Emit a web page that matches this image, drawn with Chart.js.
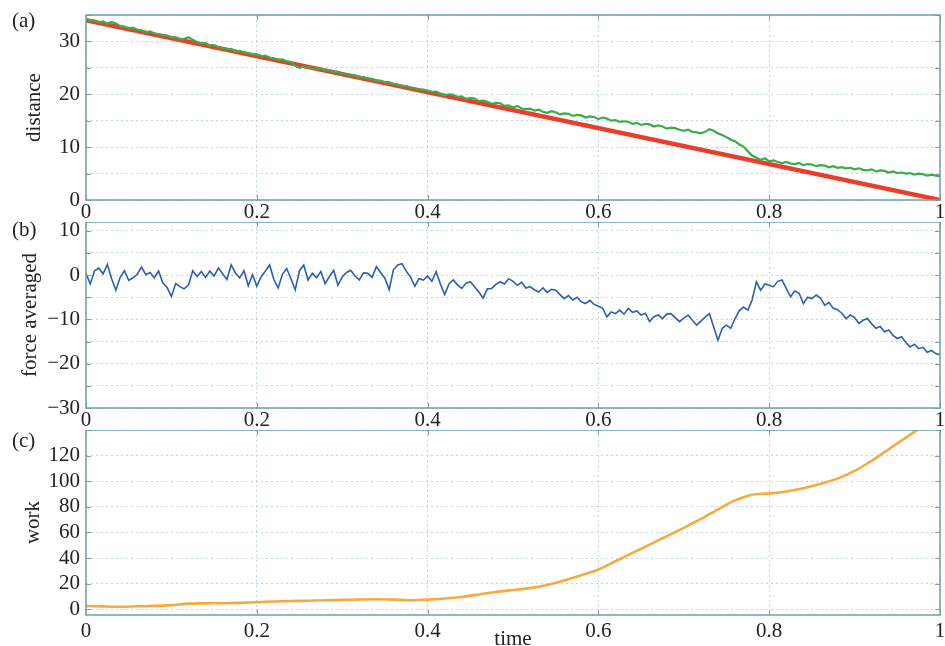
<!DOCTYPE html>
<html>
<head>
<meta charset="utf-8">
<script src="https://cdn.jsdelivr.net/npm/chart.js@4/dist/chart.umd.min.js"></script>
<style>
  html, body { margin: 0; padding: 0; background: #fff; overflow: hidden; }
  #wrap { position: relative; width: 945px; height: 646px; overflow: hidden; }
  canvas { position: absolute; left: 0; }
  .tag { position: absolute; left: 12px; font: 21px 'Liberation Serif', serif; line-height: 21px; color: #222; }
</style>
</head>
<body>
<div id="wrap">
  <canvas id="cDist" width="945" height="222" style="top:0"></canvas>
  <canvas id="cForce" width="945" height="208" style="top:222px"></canvas>
  <canvas id="cWork" width="945" height="230" style="top:430px"></canvas>
  <div class="tag" style="top:10px">(a)</div>
  <div class="tag" style="top:219px">(b)</div>
  <div class="tag" style="top:430px">(c)</div>
</div>
<script>
// ============================================
// distance / force / work vs time — three stacked panels
// ============================================

// x ticks shared by the three panels
const timeTicks = [0, 0.2, 0.4, 0.6, 0.8, 1];

// (a) distance: measured (green, sampled every 0.005) and ideal (red)
const distanceMeasured = [
  34.3, 33.9, 34.0, 33.6, 33.8, 33.3, 33.7, 33.4, 32.9, 32.8, 32.4, 32.6, 32.2, 32.1, 31.7, 31.9, 31.5, 31.4, 31.2, 31.1,
  30.7, 30.8, 30.4, 30.5, 30.8, 30.3, 29.9, 29.6, 29.7, 29.2, 29.3, 28.9, 28.8, 28.5, 28.6, 28.1, 28.2, 27.9, 27.8, 27.5,
  27.6, 27.2, 27.3, 26.9, 26.8, 26.5, 26.6, 26.2, 26.1, 25.4, 25.0, 25.3, 25.1, 24.9, 24.8, 24.9, 24.5, 24.6, 24.2, 24.3,
  23.9, 23.8, 23.5, 23.6, 23.2, 23.3, 22.9, 22.9, 22.5, 22.6, 22.2, 22.3, 21.9, 21.8, 21.5, 21.6, 21.2, 21.1, 20.8, 20.9,
  20.7, 20.4, 20.5, 20.1, 19.8, 20.0, 19.9, 19.5, 19.6, 19.1, 19.3, 19.2, 18.7, 18.8, 18.6, 18.2, 18.4, 18.3, 17.8, 17.9,
  17.5, 17.8, 17.3, 17.2, 17.3, 16.9, 17.1, 16.7, 16.5, 16.8, 16.6, 16.2, 16.4, 16.3, 15.9, 16.1, 16.0, 15.6, 15.8, 15.7,
  15.3, 15.6, 15.4, 15.0, 15.1, 14.8, 14.9, 14.8, 14.4, 14.6, 14.2, 14.4, 14.3, 13.9, 14.1, 13.9, 13.5, 13.7, 13.6, 13.3,
  13.1, 13.3, 12.9, 12.8, 12.6, 12.9, 13.4, 13.1, 12.6, 12.3, 11.9, 11.4, 11.1, 10.5, 10.1, 9.2, 8.4, 8.0, 7.6, 7.9,
  7.3, 7.5, 7.2, 7.0, 7.2, 6.9, 6.8, 7.0, 6.6, 6.8, 6.7, 6.4, 6.6, 6.5, 6.2, 6.4, 6.1, 6.2, 6.0, 6.1,
  5.8, 6.0, 5.7, 5.6, 5.8, 5.4, 5.6, 5.5, 5.2, 5.4, 5.1, 5.2, 5.0, 5.1, 4.8, 5.0, 4.9, 4.6, 4.8, 4.6,
  4.5
];
const idealTimes = [0, 1];
const idealDistance = [34, 0];

// (b) averaged force, sampled every 0.005
const forceAveraged = [
  0.4, -2.0, 1.0, 1.6, 0.3, 2.4, -0.8, -3.4, -0.5, 1.0, -1.2, -0.6, 0.2, 1.8, 0.1, 0.6, -0.6, 0.9, -1.8, -2.8,
  -4.8, -1.9, -2.6, -3.1, -2.2, 1.0, -0.3, 0.8, -0.5, 0.9, -0.2, 1.6, 0.3, -1.0, 2.3, 0.5, -0.6, 1.0, -2.4, 0.1,
  -2.5, -0.4, 0.9, 2.3, -1.0, -2.9, 0.2, 1.5, -0.8, -3.3, 1.0, 2.3, -1.1, 0.4, -0.6, 0.8, -1.9, -0.3, 1.1, -2.3,
  -0.4, 0.6, 1.1, -0.2, -1.1, 0.5, 0.4, -0.5, 1.9, 0.6, -0.7, -3.3, 1.2, 2.3, 2.6, 0.9, -0.4, -2.5, -0.8, -1.1,
  -0.2, -1.4, 0.8, -2.0, -4.4, -2.0, -1.1, -2.2, -3.0, -1.8, -1.5, -2.6, -3.8, -5.2, -3.1, -3.0, -2.1, -1.5, -2.0, -0.8,
  -1.4, -2.3, -1.6, -2.9, -2.6, -3.3, -3.8, -2.9, -3.9, -3.2, -3.4, -4.4, -5.3, -4.6, -5.6, -5.0, -6.0, -6.4, -5.7, -6.6,
  -7.0, -7.5, -9.4, -8.3, -8.7, -7.9, -8.8, -7.5, -8.4, -8.1, -9.0, -8.6, -10.5, -9.4, -9.0, -9.8, -8.8, -8.7, -9.6, -10.5,
  -9.7, -9.0, -10.2, -11.3, -10.4, -9.5, -8.7, -11.7, -14.7, -12.0, -11.3, -12.0, -9.8, -8.0, -7.2, -7.9, -5.6, -1.5, -3.4, -2.0,
  -2.3, -2.6, -1.4, -1.1, -3.0, -4.9, -3.6, -4.1, -6.4, -5.0, -5.3, -4.5, -5.2, -6.8, -6.2, -7.5, -7.8, -8.6, -9.8, -9.0,
  -9.6, -10.9, -10.2, -9.8, -11.0, -12.0, -11.6, -12.8, -12.4, -13.6, -14.3, -13.9, -15.2, -16.2, -15.6, -16.6, -16.3, -17.4, -17.0, -17.7,
  -18.0
];

// (c) work, sampled every 0.02
const work = [
  2.5, 2.2, 2.0, 2.3, 2.6, 3.2, 4.4, 4.6, 4.7, 5.0,
  5.5, 6.0, 6.4, 6.6, 7.0, 7.3, 7.6, 7.8, 7.5, 7.0,
  7.5, 8.4, 9.6, 11.5, 13.5, 15.0, 16.5, 19.0, 22.5, 26.5,
  31.0, 37.5, 44, 50.5, 57, 63.5, 70.5, 78, 85, 89.5,
  90.5, 92, 94.5, 98, 102, 108, 116, 125, 134, 143,
  152
];

const serif = { family: "'Liberation Serif', 'Times New Roman', serif", size: 21 };
const gridColor = '#bcd5e0';
const frameColor = '#6aa2a6';

// evenly sampled series -> {x, y}
const sampled = (vals) => vals.map((v, i) => ({ x: i / (vals.length - 1), y: v }));
const minus = v => (v < 0 ? '\u2212' + Math.abs(v) : String(v));

// box round the plot with small inward ticks, like the original figure
const framePlugin = {
  id: 'frame',
  afterDraw(chart) {
    const { ctx, chartArea: a, scales } = chart;
    ctx.save();
    ctx.strokeStyle = '#8d9a9a';
    ctx.lineWidth = 1;
    scales.y.ticks.forEach(t => {
      const p = Math.round(scales.y.getPixelForValue(t.value)) + 0.5;
      ctx.beginPath(); ctx.moveTo(a.right, p); ctx.lineTo(a.right - 5, p); ctx.stroke();
      ctx.beginPath(); ctx.moveTo(a.left, p); ctx.lineTo(a.left + 5, p); ctx.stroke();
    });
    scales.x.ticks.forEach(t => {
      const p = Math.round(scales.x.getPixelForValue(t.value)) + 0.5;
      ctx.beginPath(); ctx.moveTo(p, a.top); ctx.lineTo(p, a.top + 5); ctx.stroke();
      ctx.beginPath(); ctx.moveTo(p, a.bottom); ctx.lineTo(p, a.bottom - 5); ctx.stroke();
    });
    ctx.strokeStyle = frameColor;
    ctx.lineWidth = 1.5;
    ctx.strokeRect(a.left, a.top, a.right - a.left, a.bottom - a.top);
    ctx.restore();
  }
};

function panel(canvas, datasets, y, opts) {
  return new Chart(canvas, {
    type: 'line',
    data: { datasets },
    plugins: [framePlugin],
    options: {
      responsive: false,
      animation: false,
      layout: { padding: { top: opts.top, right: 5, left: 0, bottom: 0 } },
      plugins: { legend: { display: false }, tooltip: { enabled: false } },
      elements: { point: { radius: 0 } },
      scales: {
        x: {
          type: 'linear', min: 0, max: 1,
          afterBuildTicks: s => { s.ticks = timeTicks.map(v => ({ value: v })); },
          ticks: { font: serif, color: '#222', padding: opts.xPad, maxRotation: 0, autoSkip: false,
                   callback: v => String(Number(v.toFixed(1))) },
          grid: { color: gridColor, drawTicks: false, lineWidth: 1 },
          border: { display: false, dash: [2, 3] },
          title: opts.xTitle ? { display: true, text: opts.xTitle, font: serif, color: '#222', padding: { top: 0, bottom: 8 } } : { display: false },
          afterFit: s => { s.height = opts.xHeight; s.paddingLeft = 0; s.paddingRight = 0; }
        },
        y: {
          type: 'linear', min: y.min, max: y.max,
          ticks: { stepSize: y.step, includeBounds: false, autoSkip: false, font: serif, color: '#222', padding: 6,
                   callback: v => (v % y.label === 0 && v <= y.labelMax ? minus(v) : '') },
          grid: { color: gridColor, drawTicks: false, lineWidth: 1 },
          border: { display: false, dash: [2, 3] },
          title: { display: true, text: y.title, font: serif, color: '#222', padding: { top: y.titlePad, bottom: 0 } },
          afterFit: s => { s.width = 86; s.paddingTop = 0; s.paddingBottom = 0; }
        }
      }
    }
  });
}

panel(document.getElementById('cDist'), [
  { data: sampled(distanceMeasured), borderColor: '#38ad4a', borderWidth: 2.2, tension: 0 },
  { data: idealTimes.map((t, i) => ({ x: t, y: idealDistance[i] })), borderColor: '#ec3d2a', borderWidth: 4.5 }
], { min: 0, max: 35, step: 5, label: 10, labelMax: 30, title: 'distance', titlePad: 22 },
   { top: 15, xHeight: 22, xPad: 0 });

panel(document.getElementById('cForce'), [
  { data: sampled(forceAveraged), borderColor: '#2a5fb5', borderWidth: 1.6, tension: 0 }
], { min: -30, max: 12, step: 5, label: 10, labelMax: 10, title: 'force averaged', titlePad: 18 },
   { top: 0, xHeight: 22, xPad: 0 });

panel(document.getElementById('cWork'), [
  { data: sampled(work), borderColor: '#f8a93e', borderWidth: 2.6, tension: 0.3 }
], { min: -4.5, max: 140, step: 20, label: 20, labelMax: 120, title: 'work', titlePad: 21 },
   { top: 0, xHeight: 45, xPad: 4, xTitle: 'time' });
</script>
</body>
</html>
